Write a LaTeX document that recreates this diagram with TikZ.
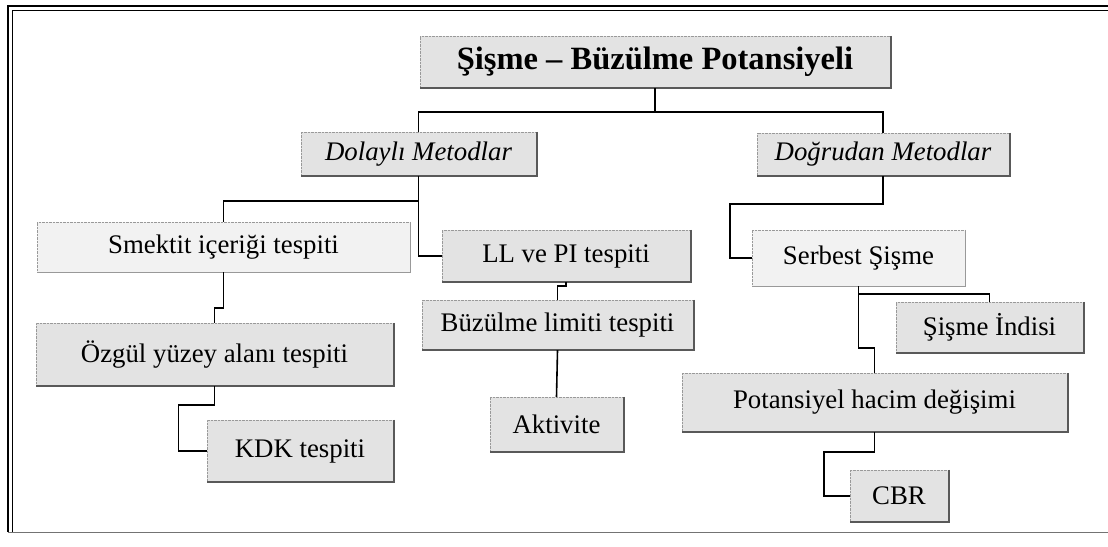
\documentclass[tikz,border=0pt]{standalone}
\usepackage{fontspec}
\setmainfont{Liberation Serif}

\begin{document}
\begin{tikzpicture}[x=1pt,y=-1pt,
  main node/.style={rectangle,draw=black!40,densely dotted,fill=black!11,inner sep=0pt,font=\fontsize{26.8}{30}\selectfont},
  light node/.style={main node,fill=black!5},
  title node/.style={main node,font=\fontsize{32.5}{36}\selectfont\bfseries},
  link/.style={line width=1.6pt},
  shade/.style={black!65,line width=2pt}]

  \useasboundingbox (0,0) rectangle (1108,546);

  % frame
  \draw[line width=1.2pt] (1108,6) -- (8,6) -- (8,532);
  \draw[line width=1pt] (1108,10) -- (12,10) -- (12,532);
  \draw[black!55,line width=1pt] (8,532) -- (1108,532);

  \node[title node,minimum width=470pt,minimum height=52pt] (T) at (655,62) {Şişme – Büzülme Potansiyeli};
  \node[main node,minimum width=235pt,minimum height=44pt,font=\fontsize{26.8}{30}\selectfont\itshape] (D) at (418.5,154) {Dolaylı Metodlar};
  \node[main node,minimum width=252pt,minimum height=43pt,font=\fontsize{26.8}{30}\selectfont\itshape] (G) at (883,154.5) {Doğrudan Metodlar};

  \node[light node,minimum width=373pt,minimum height=50pt] (SI) at (223.5,247) {Smektit içeriği tespiti};
  \node[main node,minimum width=248pt,minimum height=52pt] (LP) at (566,256) {LL ve PI tespiti};
  \node[main node,minimum width=271pt,minimum height=50pt] (BL) at (557.5,325) {Büzülme limiti tespiti};
  \node[main node,minimum width=133pt,minimum height=55pt] (AK) at (556.5,424.5) {Aktivite};
  \node[main node,minimum width=357pt,minimum height=63pt] (OY) at (214.5,354.5) {Özgül yüzey alanı tespiti};
  \node[main node,minimum width=186pt,minimum height=62pt] (KD) at (300,451) {KDK tespiti};

  \node[light node,minimum width=213pt,minimum height=56pt] (SS) at (858.5,258) {Serbest Şişme};
  \node[main node,minimum width=187pt,minimum height=51pt] (SN) at (989.5,327.5) {Şişme İndisi};
  \node[main node,minimum width=385pt,minimum height=59pt] (PH) at (874.5,402.5) {Potansiyel hacim değişimi};
  \node[main node,minimum width=98pt,minimum height=52pt] (CB) at (899,496) {CBR};

  % shadows
  \foreach \n in {T,D,G,LP,BL,AK,OY,KD,SN,PH,CB}
    \draw[shade] ([xshift=1pt]\n.north east) -- ([xshift=1pt]\n.south east) -- (\n.south west);
  \foreach \n in {SI,SS}
    \draw[shade,black!40,line width=1pt] (\n.north east) -- (\n.south east) -- (\n.south west);

  % connectors
  \draw[link] (T.south) -- ++(0,24) -| (D.north);
  \draw[link] (T.south) -- ++(0,24) -| (G.north);
  \draw[link] (D.south) -- ++(0,25) -| (SI.north);
  \draw[link] (D.south) |- (LP.west);
  \draw[link] (SI.south) -- ++(0,36) -| (OY.north);
  \draw[link] (OY.south) -- ++(0,19) -- ++(-36,0) |- (KD.west);
  \draw[link] (BL.north) -- ++(0,-14) -| (LP.south);
  \draw[link] (BL.south) -- (AK.north);
  \draw[link] (G.south) -- ++(0,28) -- ++(-153,0) |- (SS.west);
  \draw[link] (SS.south) -- ++(0,8) -| (SN.north);
  \draw[link] (SS.south) -- ++(0,62) -| (PH.north);
  \draw[link] (PH.south) -- ++(0,20) -- ++(-50.5,0) |- (CB.west);
\end{tikzpicture}
\end{document}
